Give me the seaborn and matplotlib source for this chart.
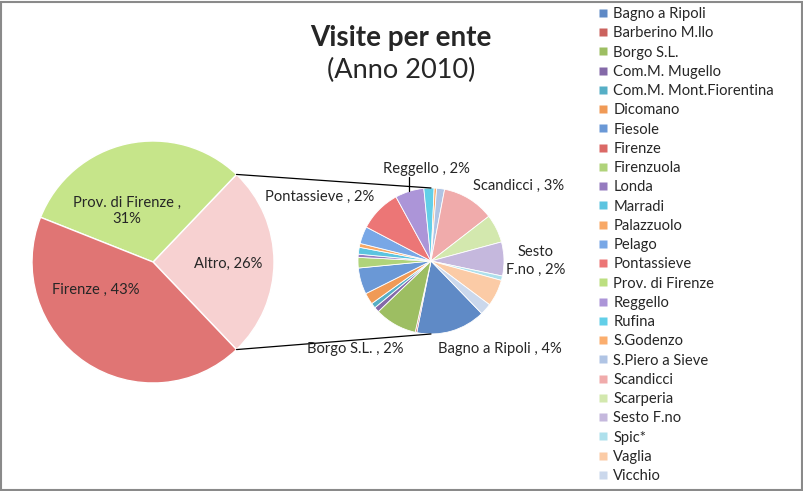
import matplotlib
matplotlib.use("Agg")
import matplotlib.pyplot as plt
from matplotlib.lines import Line2D
import numpy as np
import seaborn as sns

# --- DATA ---
enti = ["Bagno a Ripoli", "Barberino M.llo", "Borgo S.L.", "Com.M. Mugello",
        "Com.M. Mont.Fiorentina", "Dicomano", "Fiesole", "Firenze", "Firenzuola",
        "Londa", "Marradi", "Palazzuolo", "Pelago", "Pontassieve",
        "Prov. di Firenze", "Reggello", "Rufina", "S.Godenzo", "S.Piero a Sieve",
        "Scandicci", "Scarperia", "Sesto F.no", "Spic*", "Vaglia", "Vicchio"]
visite = [394, 9, 240, 29, 29, 65, 150, 4300, 60, 18, 39, 22, 98, 240,
          3100, 164, 58, 14, 45, 296, 161, 193, 25, 152, 66]
colori = ["#5F8AC6", "#CB625E", "#9DBE62", "#8469A8", "#56AFC6", "#F09A56",
          "#6A98D6", "#DB6966", "#B0D37A", "#957BBF", "#5CC4E0", "#F8A866",
          "#78A7E6", "#EC7676", "#BCDF80", "#AC95D8", "#62CFE8", "#FBAE6E",
          "#B0C4E4", "#F0ABAB", "#D3E8AE", "#C5B8DD", "#AEE0EC", "#FBCBA6",
          "#CBD8EC"]
principali = ["Prov. di Firenze", "Firenze"]
colori_principali = ["#C6E58A", "#E07574"]
colore_altro = "#F7D1D1"
con_etichetta = ["Bagno a Ripoli", "Borgo S.L.", "Pontassieve",
                 "Reggello", "Scandicci", "Sesto F.no"]

# --- LAYOUT (pixels from top-left) ---
W, H = 804, 491
MAIN_C, MAIN_R = (153, 262), 121
SEC_C, SEC_R = (431, 261), 73
pos_main = {"Altro": (228, 264), "Prov. di Firenze": (127, 211), "Firenze": (96, 290)}
pos_sec = {"Reggello": (426, 169), "Scandicci": (519, 186), "Sesto F.no": (536, 261),
           "Bagno a Ripoli": (500, 349), "Borgo S.L.": (355, 349),
           "Pontassieve": (320, 197)}
FS = 10.6


def py(y):
    return H - y


sns.set_theme(style="white")
plt.rcParams['font.family'] = ['Lato', 'DejaVu Sans']

totale = sum(visite)
altri = [(n, v, c) for n, v, c in zip(enti, visite, colori) if n not in principali]
altro = sum(v for _, v, _ in altri)
main_vals = [altro] + [visite[enti.index(n)] for n in principali]
main_cols = [colore_altro] + colori_principali

fig = plt.figure(figsize=(W / 100, H / 100), dpi=100)
ax = fig.add_axes([0, 0, 1, 1])

start = -altro / totale * 180
ax.pie(main_vals, colors=main_cols, center=(MAIN_C[0], py(MAIN_C[1])), radius=MAIN_R,
       startangle=start, counterclock=True, frame=True,
       wedgeprops=dict(edgecolor="white", linewidth=1.0))

sec_vals = [v for _, v, _ in altri]
sec_cols = [c for _, _, c in altri]
sec_start = -46
wedges, _ = ax.pie(sec_vals, colors=sec_cols, center=(SEC_C[0], py(SEC_C[1])), radius=SEC_R,
                   startangle=sec_start, counterclock=False, frame=True,
                   wedgeprops=dict(edgecolor="white", linewidth=0.6))

# connector lines between the two pies
a = np.deg2rad(start)
for sgn in (1, -1):
    x0 = MAIN_C[0] + MAIN_R * np.cos(a)
    y0 = py(MAIN_C[1]) - sgn * MAIN_R * np.sin(a)
    ax.plot([x0, SEC_C[0]], [y0, py(SEC_C[1]) + sgn * SEC_R], color="black", lw=0.9)


def pct(v):
    return f"{round(v / totale * 100):.0f}%"


# labels main pie
ax.text(pos_main["Altro"][0], py(pos_main["Altro"][1]), f"Altro, {pct(altro)}",
        ha="center", va="center", fontsize=FS)
for n in principali:
    v = visite[enti.index(n)]
    txt = f"{n} ,\n{pct(v)}" if n == "Prov. di Firenze" else f"{n} , {pct(v)}"
    ax.text(pos_main[n][0], py(pos_main[n][1]), txt, ha="center", va="center",
            fontsize=FS, linespacing=1.25)

# labels secondary pie
for w, (n, v, _) in zip(wedges, altri):
    if n not in con_etichetta:
        continue
    txt = f"{n} , {pct(v)}"
    if n == "Sesto F.no":
        txt = f"Sesto\nF.no , {pct(v)}"
    x, y = pos_sec[n]
    ax.text(x, py(y), txt, ha="center", va="center", fontsize=FS, linespacing=1.4)
    if n == "Reggello":
        th = np.deg2rad((w.theta1 + w.theta2) / 2)
        ex = SEC_C[0] + SEC_R * np.cos(th)
        ey = py(SEC_C[1]) + SEC_R * np.sin(th)
        ax.plot([ex, ex], [py(y) - 8, ey], color="black", lw=0.9)

# title
ax.text(401, py(46), "Visite per ente", ha="center", va="baseline",
        fontsize=20, fontweight="bold")
ax.text(401, py(78), "(Anno 2010)", ha="center", va="baseline", fontsize=19.5)

ax.set_xlim(0, W)
ax.set_ylim(0, H)
ax.set_aspect("equal")
ax.axis("off")

handles = [Line2D([], [], marker="s", linestyle="none", markersize=6,
                  markerfacecolor=c, markeredgecolor="none") for c in colori]
fig.legend(handles, enti, loc="upper left", bbox_to_anchor=(597 / W, 1 - 7 / H),
           frameon=False, fontsize=FS, handlelength=0.8, handletextpad=0.3,
           labelspacing=0.357, borderaxespad=0, borderpad=0)

fig.add_artist(plt.Rectangle((1 / W, 1 / H), 1 - 2.5 / W, 1 - 2.5 / H, fill=False,
                             edgecolor="#8a8a8a", lw=1.5, transform=fig.transFigure))
fig.savefig("out.png", dpi=100, facecolor="white")
